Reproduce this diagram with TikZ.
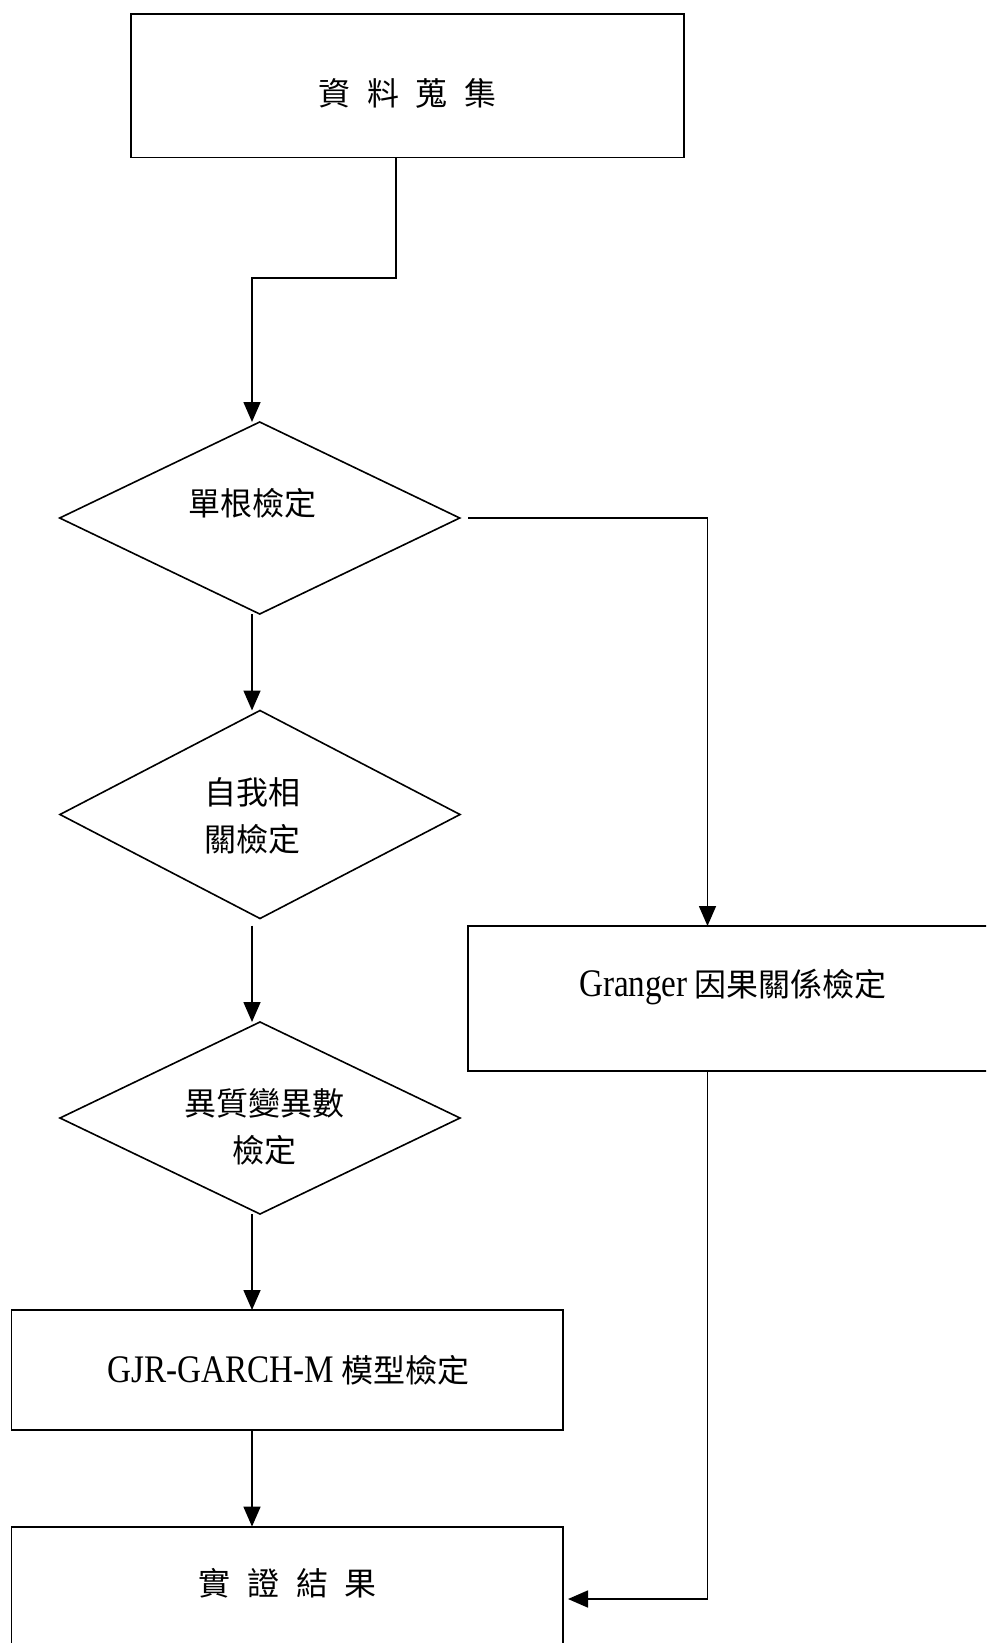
\documentclass[tikz,border=0pt]{standalone}
\usepackage{fontspec}
\setmainfont{Noto Sans CJK TC}
\newfontfamily\lat[FakeStretch=0.85]{Liberation Serif}
\usetikzlibrary{shapes.geometric,arrows.meta,calc}
\newcommand\latbig{\lat\fontsize{39}{47}\selectfont}
\begin{document}
\begin{tikzpicture}[x=1pt,y=-1pt,
  boxstyle/.style={draw,line width=1.8pt,inner sep=0pt,outer sep=0pt},
  dia/.style={draw,diamond,line width=1.6pt,inner sep=0pt,outer sep=0pt},
  lbl/.style={inner sep=0pt,font=\fontsize{32}{47}\selectfont,align=center},
  arr/.style={line width=1.6pt,-{Triangle[length=20pt,width=17pt]}}
]
\useasboundingbox (0,0) rectangle (986,1643);
\begin{scope}
\clip (0,0) rectangle (986,1643);
% boxes
\node[boxstyle,minimum width=553pt,minimum height=143.5pt] (b1) at (407.5,85.75) {};
\node[boxstyle,minimum width=551.6pt,minimum height=120pt] (gjr) at (287.2,1370) {};
\node[boxstyle,minimum width=551.6pt,minimum height=153.4pt] (res) at (287.2,1603.3) {};
\node[boxstyle,minimum width=542pt,minimum height=144.6pt] (gr) at (739,998.3) {};
% diamonds
\node[dia,minimum width=400pt,minimum height=192pt] (d1) at (259.7,518) {};
\node[dia,minimum width=400pt,minimum height=208pt] (d2) at (260,814.5) {};
\node[dia,minimum width=400pt,minimum height=192pt] (d3) at (260,1118) {};
% texts
\node[lbl] (t1) at (407.5,93) {\spaceskip=16.8pt 資 料 蒐 集};
\node[lbl] (t2) at (252,503) {單根檢定};
\node[lbl] (t3) at (252,815.5) {自我相\\關檢定};
\node[lbl] (t4) at (264,1127) {異質變異數\\檢定};
\node[lbl] (t5) at (733,987) {{\latbig Granger} 因果關係檢定};
\node[lbl] (t6) at (288.7,1370.5) {{\latbig GJR-GARCH-M} 模型檢定};
\node[lbl] (t7) at (287.6,1583) {\spaceskip=16.8pt 實 證 結 果};
% connectors
\coordinate (k1) at (396,278);
\coordinate (k2) at (252,278);
\coordinate (k3) at (707.5,518);
\coordinate (k4) at (707.5,1599);
\draw[arr] (b1.south -| k1) -- (k1) -- (k2) -- (k2 |- d1.north);
\draw[arr] (k2 |- d1.south) -- (k2 |- d2.north);
\draw[arr] ($(k2 |- d2.south)+(0,7)$) -- (k2 |- d3.north);
\draw[arr] (k2 |- d3.south) -- (k2 |- gjr.north);
\draw[arr] (k2 |- gjr.south) -- (k2 |- res.north);
\draw[arr] ($(d1.east)+(8.5,0)$) -- (k3) -- (k3 |- gr.north);
\draw[arr] (k3 |- gr.south) -- (k4) -- ($(k4 -| res.east)+(5,0)$);
\end{scope}
\end{tikzpicture}
\end{document}
